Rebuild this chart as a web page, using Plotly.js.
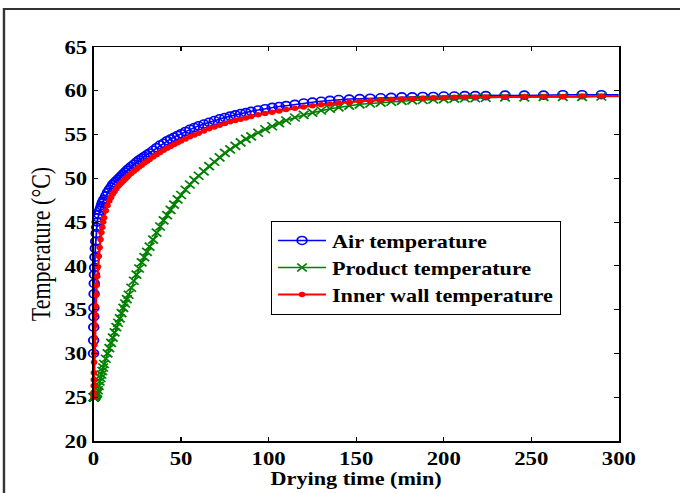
<!DOCTYPE html>
<html>
<head>
<meta charset="utf-8">
<script src="https://cdn.plot.ly/plotly-3.0.1.min.js"></script>
<style>
  html, body { margin: 0; padding: 0; background: #fff; overflow: hidden; }
  /* the figure is laid out narrow and widened to the 680 px frame */
  #chart { width: 567px; height: 493px; transform: scaleX(1.1993); transform-origin: 0 0; }
</style>
</head>
<body>
<div id="chart"></div>
<script>
// Drying time samples (min), shared by the three temperature series
const dryingTime = [
  0, 0.05, 0.1, 0.15, 0.2, 0.3, 0.4, 0.5, 0.6, 0.8,
  1.0, 1.2, 1.5, 1.8, 2.1, 2.5, 3, 3.5, 4, 4.5,
  5, 5.5, 6, 7, 8, 9, 10, 11, 12, 13,
  14, 15, 16, 17, 18, 19, 20, 21.5, 23, 24.5,
  26, 27.5, 29, 30.5, 32, 34, 36, 38, 40, 42,
  44, 46, 48, 50, 52.5, 55, 57.5, 60, 63, 66,
  69, 72, 75, 78, 81, 84, 87, 90, 94, 98,
  102, 106, 110, 115, 120, 125, 130, 135, 140, 146,
  152, 158, 164, 170, 176, 182, 188, 194, 200, 206,
  212, 218, 224, 235, 246, 257, 268, 279, 290, 300
];

// Air temperature (°C)
const airTemp = [
  30, 31.5, 33, 34.2, 35.2, 36.8, 38, 39, 39.8, 41,
  42, 42.8, 43.7, 44.4, 45, 45.5, 45.9, 46.3, 46.6, 46.9,
  47.2, 47.4, 47.6, 48.0, 48.4, 48.7, 49.0, 49.3, 49.5, 49.7,
  49.9, 50.1, 50.3, 50.5, 50.7, 50.9, 51.1, 51.35, 51.6, 51.85,
  52.1, 52.3, 52.5, 52.7, 52.9, 53.2, 53.5, 53.8, 54.0, 54.3,
  54.5, 54.7, 54.9, 55.1, 55.35, 55.6, 55.8, 56.0, 56.2, 56.4,
  56.6, 56.8, 56.95, 57.1, 57.25, 57.4, 57.5, 57.65, 57.8, 57.95,
  58.1, 58.2, 58.3, 58.45, 58.6, 58.7, 58.8, 58.9, 59.0, 59.05,
  59.1, 59.15, 59.2, 59.25, 59.3, 59.3, 59.35, 59.35, 59.4, 59.4,
  59.45, 59.45, 59.45, 59.5, 59.5, 59.5, 59.55, 59.55, 59.55, 59.55
];

// Product temperature (°C)
const productTemp = [
  25, 25, 25, 25, 25, 25, 25, 25, 25.05, 25.1,
  25.15, 25.2, 25.3, 25.4, 25.5, 25.8, 26.3, 26.8, 27.2, 27.6,
  28.0, 28.4, 28.8, 29.4, 30.0, 30.6, 31.2, 31.8, 32.4, 33.0,
  33.5, 34.0, 34.6, 35.2, 35.7, 36.2, 36.7, 37.5, 38.3, 39.0,
  39.7, 40.4, 41.0, 41.6, 42.2, 43.0, 43.8, 44.5, 45.2, 45.8,
  46.4, 47.0, 47.6, 48.1, 48.7, 49.3, 49.8, 50.3, 50.8, 51.4,
  51.9, 52.4, 52.9, 53.3, 53.7, 54.1, 54.5, 54.8, 55.2, 55.6,
  55.95, 56.3, 56.6, 56.95, 57.25, 57.5, 57.75, 57.95, 58.1, 58.3,
  58.45, 58.55, 58.65, 58.75, 58.85, 58.9, 58.95, 59.0, 59.05, 59.1,
  59.15, 59.15, 59.2, 59.25, 59.25, 59.3, 59.3, 59.3, 59.35, 59.35
];

// Inner wall temperature (°C)
const wallTemp = [
  25, 25.5, 26.3, 27, 27.8, 29, 30, 31, 31.8, 33.2,
  34.4, 35.4, 36.7, 37.8, 38.8, 39.9, 41.1, 42.1, 43, 43.8,
  44.4, 45, 45.5, 46.3, 46.9, 47.4, 47.8, 48.2, 48.5, 48.8,
  49.1, 49.3, 49.5, 49.7, 49.9, 50.1, 50.3, 50.55, 50.8, 51.05,
  51.3, 51.5, 51.75, 51.95, 52.15, 52.45, 52.7, 52.95, 53.2, 53.45,
  53.65, 53.85, 54.05, 54.25, 54.5, 54.75, 54.95, 55.15, 55.4, 55.65,
  55.85, 56.05, 56.25, 56.45, 56.6, 56.75, 56.9, 57.05, 57.25, 57.4,
  57.55, 57.7, 57.85, 58.0, 58.15, 58.3, 58.4, 58.5, 58.6, 58.7,
  58.8, 58.85, 58.95, 59.0, 59.05, 59.1, 59.15, 59.2, 59.2, 59.25,
  59.25, 59.3, 59.3, 59.3, 59.35, 59.35, 59.35, 59.4, 59.4, 59.4
];

const seriesNames = ['Air temperature', 'Product temperature', 'Inner wall temperature'];
const xTicks = [0, 50, 100, 150, 200, 250, 300];
const yTicks = [20, 25, 30, 35, 40, 45, 50, 55, 60, 65];

// the final sample closes the line at the axis edge without a marker
const markerOpacity = dryingTime.map((t, i) => (i === dryingTime.length - 1 ? 0 : 1));

const FONT = 'Liberation Serif, Times New Roman, serif';

const traces = [
  {
    x: dryingTime, y: airTemp, name: seriesNames[0],
    type: 'scatter', mode: 'lines+markers', cliponaxis: false,
    line: { color: '#0000ff', width: 1.5 },
    marker: { symbol: 'circle-open', size: 8, color: '#0000ff', opacity: markerOpacity,
              line: { width: 1.6, color: '#0000ff' } }
  },
  {
    x: dryingTime, y: productTemp, name: seriesNames[1],
    type: 'scatter', mode: 'lines+markers', cliponaxis: false,
    line: { color: '#008000', width: 1.5 },
    marker: { symbol: 'x-thin-open', size: 8, color: '#008000', opacity: markerOpacity,
              line: { width: 1.6, color: '#008000' } }
  },
  {
    x: dryingTime, y: wallTemp, name: seriesNames[2],
    type: 'scatter', mode: 'lines+markers', cliponaxis: false,
    line: { color: '#ff0000', width: 2 },
    marker: { symbol: 'circle', size: 5.5, color: '#ff0000', opacity: markerOpacity }
  }
];

const axisCommon = {
  showline: true, linecolor: '#000', linewidth: 1.5, mirror: 'ticks',
  ticks: 'inside', ticklen: 4, tickwidth: 1, tickcolor: '#000',
  showgrid: false, zeroline: false,
  tickfont: { family: FONT, size: 19, color: '#000', weight: 'bold' }
};

const layout = {
  width: 567, height: 493,
  margin: { l: 78, r: 51, t: 47, b: 52 },
  paper_bgcolor: '#fff', plot_bgcolor: '#fff',
  showlegend: true,
  xaxis: Object.assign({}, axisCommon, {
    range: [0, 300], tickvals: xTicks, ticktext: xTicks.map(String),
    title: { text: 'Drying time (min)', standoff: 1,
             font: { family: FONT, size: 18.5, color: '#000', weight: 'bold' } }
  }),
  yaxis: Object.assign({}, axisCommon, {
    range: [20, 65], tickvals: yTicks, ticktext: yTicks.map(String),
    title: { text: 'Temperature (°C)', standoff: 5,
             font: { family: FONT, size: 22, color: '#000' } }
  }),
  legend: {
    x: 0.3375, y: 0.5585, xanchor: 'left', yanchor: 'top',
    bgcolor: '#fff', bordercolor: '#000', borderwidth: 1,
    itemwidth: 40, tracegroupgap: 0,
    font: { family: FONT, size: 18.5, color: '#000', weight: 'bold' }
  },
  // figure frame along the top and left edges
  shapes: [{
    type: 'rect', xref: 'paper', yref: 'paper',
    x0: -0.1705, x1: 1.5, y0: -0.5, y1: 1.0964,
    line: { color: '#333', width: 2 }, fillcolor: 'rgba(0,0,0,0)'
  }]
};

Plotly.newPlot('chart', traces, layout, { staticPlot: true, displayModeBar: false });
</script>
</body>
</html>
